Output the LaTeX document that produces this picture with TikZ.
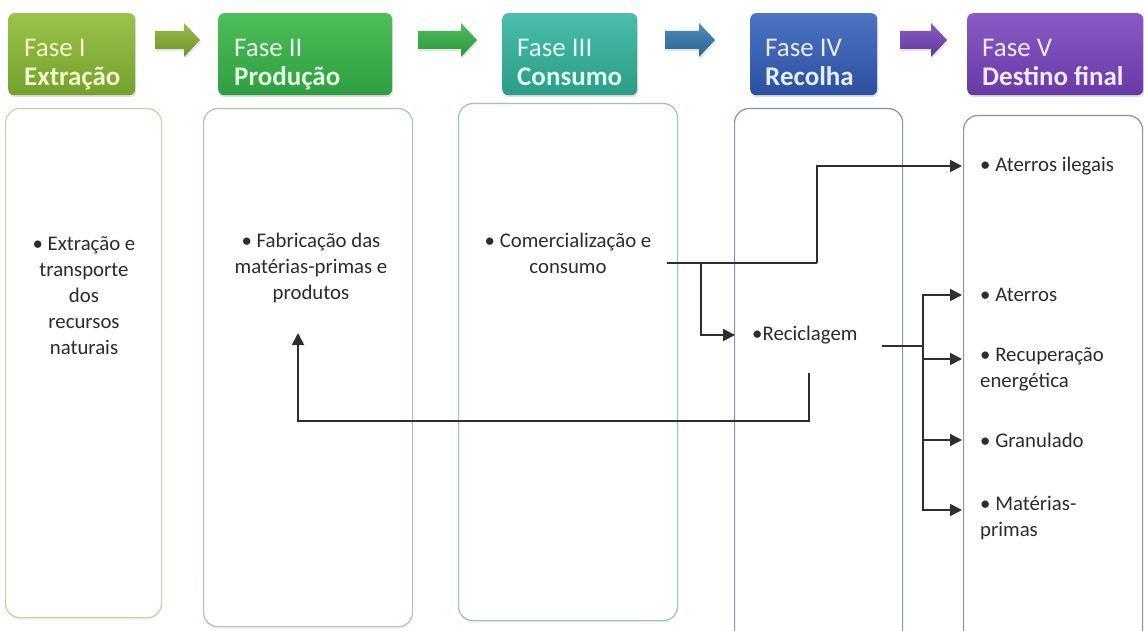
\documentclass[tikz,border=0pt]{standalone}
\usepackage{fontspec}
\setmainfont{Carlito}
\usetikzlibrary{arrows.meta,shadows,calc}
\definecolor{txt}{HTML}{2C2C2C}
\definecolor{ln}{HTML}{2E2E2E}
\definecolor{hAt}{HTML}{9CC24A}\definecolor{hAb}{HTML}{74A02A}
\definecolor{hBt}{HTML}{4EBE5A}\definecolor{hBb}{HTML}{2E9E40}
\definecolor{hCt}{HTML}{4ABEAA}\definecolor{hCb}{HTML}{2A9C88}
\definecolor{hDt}{HTML}{4C74C2}\definecolor{hDb}{HTML}{2C50A0}
\definecolor{hEt}{HTML}{8A5AC4}\definecolor{hEb}{HTML}{683AA6}
\definecolor{aAt}{HTML}{98BC48}\definecolor{aAb}{HTML}{6E9428}
\definecolor{aBt}{HTML}{4CBC5C}\definecolor{aBb}{HTML}{2C983C}
\definecolor{aCt}{HTML}{4C8CBC}\definecolor{aCb}{HTML}{2C6494}
\definecolor{aDt}{HTML}{8A5CC2}\definecolor{aDb}{HTML}{62389C}
\definecolor{tA}{HTML}{F0F7D0}\definecolor{tB}{HTML}{E4F6E2}
\definecolor{tC}{HTML}{E0F6F0}\definecolor{tD}{HTML}{E6EEFA}
\definecolor{tE}{HTML}{F2E8FA}
\definecolor{bA}{HTML}{C8D2A2}\definecolor{bB}{HTML}{A8C8B4}
\definecolor{bC}{HTML}{9CC2BC}\definecolor{bD}{HTML}{8894AA}
\definecolor{bE}{HTML}{958CA6}
\tikzset{
  hdr/.style={draw=none, rounded corners=6pt, anchor=north west, inner sep=0pt,
    drop shadow={opacity=0.25, shadow xshift=1pt, shadow yshift=-2pt}},
  htext/.style={anchor=north west, inner sep=0pt, align=left,
    font=\fontsize{27}{29}\selectfont},
  harrow/.style={draw=none, drop shadow={opacity=0.2, shadow xshift=1pt, shadow yshift=-2pt}},
  cbox/.style={draw, line width=1.2pt, rounded corners=14pt, fill=white, anchor=north west, inner sep=0pt,
    drop shadow={opacity=0.12, shadow xshift=0pt, shadow yshift=-2pt}},
  body/.style={inner sep=0pt, text=txt, font=\fontsize{20.8}{26}\selectfont},
  conn/.style={draw=ln, line width=1.8pt},
  tip/.style={-{Triangle[length=12pt,width=12pt]}}
}
\newcommand{\hArrow}[4]{% x0, x1, top colour, bottom colour
  \path[harrow, top color=#3, bottom color=#4]
    (#1,31) -- (#2-16,31) -- (#2-16,23) -- (#2,40) -- (#2-16,57) -- (#2-16,49) -- (#1,49) -- cycle;}
\begin{document}
\begin{tikzpicture}[x=1pt,y=-1pt]
\useasboundingbox[fill=white] (0,0) rectangle (1144,631);

% header boxes
\node[hdr, minimum width=127pt, minimum height=82pt, top color=hAt, bottom color=hAb] (h1) at (8,13) {};
\node[hdr, minimum width=174pt, minimum height=82pt, top color=hBt, bottom color=hBb] (h2) at (218,13) {};
\node[hdr, minimum width=135pt, minimum height=82pt, top color=hCt, bottom color=hCb] (h3) at (502,13) {};
\node[hdr, minimum width=127pt, minimum height=82pt, top color=hDt, bottom color=hDb] (h4) at (750,13) {};
\node[hdr, minimum width=176pt, minimum height=82pt, top color=hEt, bottom color=hEb] (h5) at (967,13) {};

\node[htext, text=tA] (h1t) at (24,39) {Fase I\\\textbf{Extração}};
\node[htext, text=tB] (h2t) at (234,39) {Fase II\\\textbf{Produção}};
\node[htext, text=tC] (h3t) at (517,39) {Fase III\\\textbf{Consumo}};
\node[htext, text=tD] (h4t) at (765,39) {Fase IV\\\textbf{Recolha}};
\node[htext, text=tE] (h5t) at (982,39) {Fase V\\\textbf{Destino final}};

% header arrows
\hArrow{155}{200}{aAt}{aAb}
\hArrow{418}{477}{aBt}{aBb}
\hArrow{665}{715}{aCt}{aCb}
\hArrow{900}{947}{aDt}{aDb}

% content boxes
\node[cbox, draw=bA, minimum width=156pt, minimum height=509pt] (b1) at (5,108) {};
\node[cbox, draw=bB, minimum width=209pt, minimum height=518pt] (b2) at (203,108) {};
\node[cbox, draw=bC, minimum width=219pt, minimum height=517pt] (b3) at (458,103) {};
\node[cbox, draw=bD, minimum width=168pt, minimum height=540pt] (b4) at (734,108) {};
\node[cbox, draw=bE, minimum width=179pt, minimum height=530pt] (b5) at (963,115) {};

% texts
\node[body, anchor=north, align=center] (t1) at (84,236) {• Extração e\\transporte\\dos\\recursos\\naturais};
\node[body, anchor=north, align=center] (t2) at (311,233) {• Fabricação das\\matérias-primas e\\produtos};
\node[body, anchor=north, align=center] (t3) at (568,233) {• Comercialização e\\consumo};
\node[body, anchor=west] (rec) at (752,335) {•Reciclagem};
\node[body, anchor=west] (ail) at (980,166) {• Aterros ilegais};
\node[body, anchor=west] (at) at (980,295) {• Aterros};
\node[body, anchor=north west, align=left] (rcp) at (980,347) {• Recuperação\\energética};
\node[body, anchor=west] (gr) at (980,440) {• Granulado};
\node[body, anchor=north west, align=left] (mp) at (980,496) {• Matérias-\\primas};

% connectors
\coordinate (c3out) at (667,263);
\coordinate (k1) at (817,263);
\coordinate (bv) at (701,263);
\coordinate (rout) at (882,346);
\coordinate (bx) at (923,346);
\coordinate (r1) at (809,373);
\coordinate (rb) at (809,421);
\coordinate (ret) at (298,333);

\draw[conn] (c3out) -- (k1);
\draw[conn, tip] (k1) |- ([xshift=-18pt]ail.west);
\draw[conn, tip] (bv) |- ([xshift=-17pt]rec.west);
\draw[conn] (rout) -- (bx);
\draw[conn, tip] (bx) |- ([xshift=-18pt]at.west);
\draw[conn, tip] (bx) |- ($(rcp.north west)+(-18,12)$);
\draw[conn, tip] (bx) |- ([xshift=-18pt]gr.west);
\draw[conn, tip] (bx) |- ($(mp.north west)+(-18,14)$);
\draw[conn, tip] (r1) -- (rb) -| (ret);
\end{tikzpicture}
\end{document}
